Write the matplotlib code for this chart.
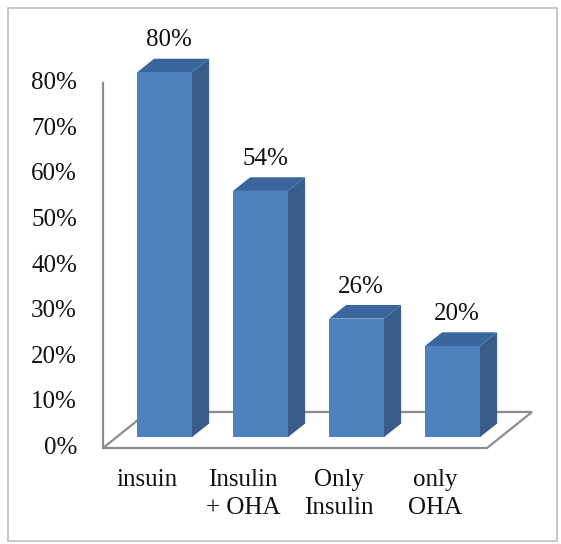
import matplotlib.pyplot as plt
from matplotlib.patches import Polygon, Rectangle

plt.rcParams['font.family'] = ['Liberation Serif', 'DejaVu Serif']

categories = ['insuin', 'Insulin\n+ OHA', 'Only\nInsulin', 'only\nOHA']
values = [80, 54, 26, 20]
value_labels = ['80%', '54%', '26%', '20%']
ticks = [0, 10, 20, 30, 40, 50, 60, 70, 80]
tick_labels = ['0%', '10%', '20%', '30%', '40%', '50%', '60%', '70%', '80%']

# colours of the 3d bar faces
front_col = '#4F81BD'
side_col = '#385D8A'
top_col = '#3B669D'
line_col = '#8C8C8C'

# oblique projection: depth vector for the full floor depth (data units)
DX = 0.469
DY = 7.9
d0, d1 = 0.30, 0.68   # bar depth (front, back) as fraction of floor
w = 0.573             # bar width in category units


def proj(x, y, d):
    return (x + d * DX, y + d * DY)


fig = plt.figure(figsize=(5.61, 5.44), dpi=100)
ax = fig.add_axes([0, 0, 1, 1])
ax.set_xlim(-103 / 96, (561 - 103) / 96)
ax.set_ylim(-96 / 4.56, (544 - 96) / 4.56)
ax.axis('off')

# floor
n = len(categories)
floor = [proj(0, 0, 0), proj(n, 0, 0), proj(n, 0, 1), proj(0, 0, 1)]
ax.add_patch(Polygon(floor, closed=True, facecolor='white', edgecolor=line_col,
                     lw=1.6, zorder=1))

# value axis
ax.plot([0, 0], [0, ticks[-1]], color=line_col, lw=1.6, zorder=1)
for t, lab in zip(ticks, tick_labels):
    ax.text(-0.27, t, lab, ha='right', va='center', fontsize=18, color='#111111')

# bars
for i, v in enumerate(values):
    x0 = i + 0.5 - w / 2
    x1 = i + 0.5 + w / 2
    front = [proj(x0, 0, d0), proj(x1, 0, d0), proj(x1, v, d0), proj(x0, v, d0)]
    side = [proj(x1, 0, d0), proj(x1, 0, d1), proj(x1, v, d1), proj(x1, v, d0)]
    top = [proj(x0, v, d0), proj(x1, v, d0), proj(x1, v, d1), proj(x0, v, d1)]
    ax.add_patch(Polygon(side, closed=True, facecolor=side_col, edgecolor='none', zorder=3))
    ax.add_patch(Polygon(top, closed=True, facecolor=top_col, edgecolor='none', zorder=3))
    ax.add_patch(Polygon(front, closed=True, facecolor=front_col, edgecolor='none', zorder=4))
    ax.text(i + 0.5 + d0 * DX + 0.05, v + d1 * DY + 4.0, value_labels[i],
            ha='center', va='center', fontsize=18, color='#111111')
    ax.text(i + 0.46, -4.5, categories[i], ha='center', va='top',
            fontsize=18, color='#111111', linespacing=1.4)

# chart border
fig.patches.append(Rectangle((8 / 561, 3 / 544), 549 / 561, 533 / 544,
                             transform=fig.transFigure, fill=False,
                             edgecolor='#BFBFBF', lw=1.2))

fig.savefig('out.png', dpi=100)
